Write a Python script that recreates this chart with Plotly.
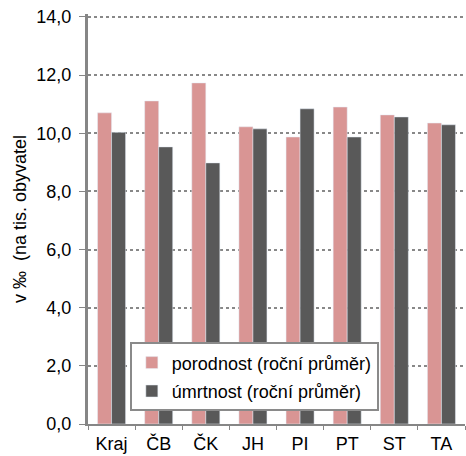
import plotly.graph_objects as go

categories = ["Kraj", "ČB", "ČK", "JH", "PI", "PT", "ST", "TA"]
porodnost = [10.70, 11.11, 11.73, 10.22, 9.87, 10.90, 10.63, 10.35]
umrtnost = [10.03, 9.53, 8.98, 10.15, 10.84, 9.87, 10.56, 10.29]
y_ticks = [0, 2, 4, 6, 8, 10, 12, 14]

fig = go.Figure()
fig.add_trace(go.Bar(x=categories, y=porodnost, name="porodnost (roční průměr)",
                     marker=dict(color="#D99594"), legendgroup="a"))
fig.add_trace(go.Bar(x=categories, y=umrtnost, name="úmrtnost (roční průměr)",
                     marker=dict(color="#595959"), legendgroup="b"))

fig.update_layout(
    width=466, height=456,
    margin=dict(l=88, r=1, t=14, b=32),
    plot_bgcolor="white", paper_bgcolor="white",
    font=dict(family="Liberation Sans, Arial, sans-serif", size=18, color="black"),
    separators=", ",
    barmode="group", bargap=0.405, bargroupgap=0,
    showlegend=True,
    legend=dict(x=0.111, y=0.199, xanchor="left", yanchor="top",
                bgcolor="white", bordercolor="#8a8a8a", borderwidth=2,
                font=dict(size=18), traceorder="grouped", tracegroupgap=2),
    xaxis=dict(showline=True, linecolor="#868686", linewidth=2, automargin=False,
               ticks="outside", tickson="boundaries", ticklen=4, tickcolor="#868686",
               showgrid=False, tickfont=dict(size=18), ticklabelstandoff=2),
    yaxis=dict(range=[0, 14.1], tickvals=y_ticks, tickformat=".1f", automargin=False,
               showline=True, linecolor="#868686", linewidth=3,
               ticks="outside", ticklen=6, tickcolor="#868686",
               showgrid=True, gridcolor="#888888", griddash="dot", gridwidth=1.5,
               zeroline=False, ticklabelstandoff=4,
               title=dict(text="v ‰  (na tis. obyvatel", font=dict(size=18), standoff=6),
               tickfont=dict(size=18)),
)

fig.write_html("out.html", config={"displayModeBar": False},
               post_script="document.body.style.margin='0';")
